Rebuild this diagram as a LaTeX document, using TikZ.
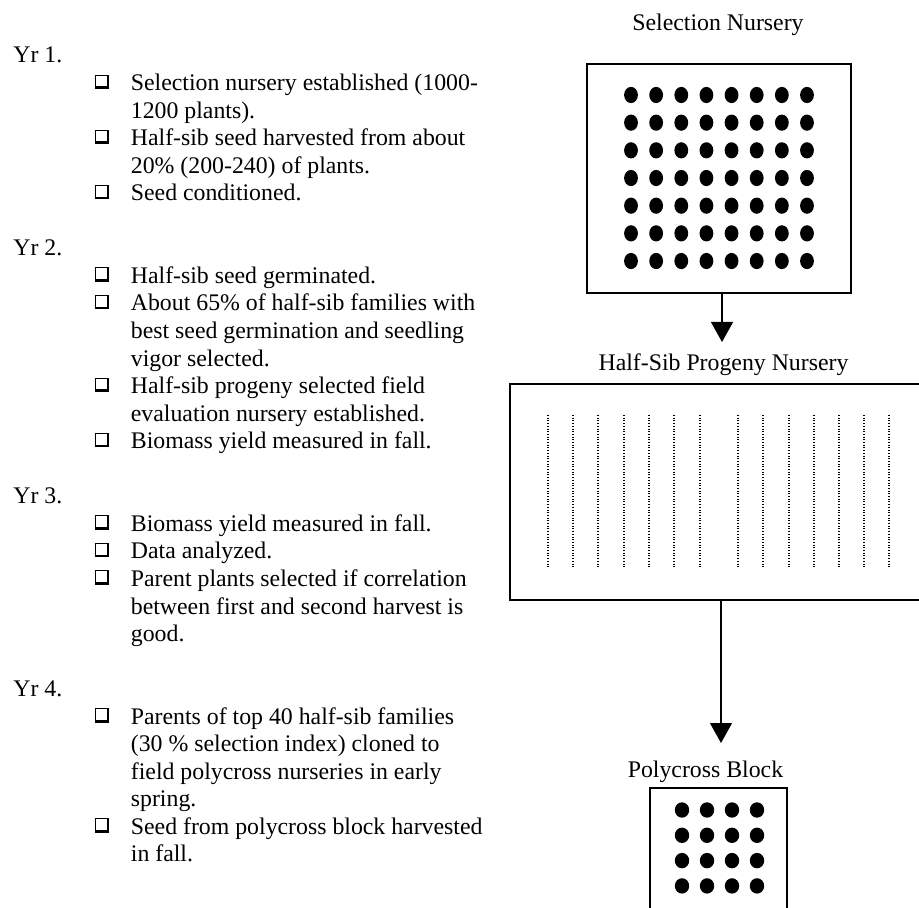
\documentclass[tikz,border=0pt]{standalone}
\usepackage{fontspec}
\setmainfont{Liberation Serif}
\usetikzlibrary{arrows.meta}
\begin{document}
\begin{tikzpicture}[x=0.5pt,y=-0.5pt,
  txt/.style={anchor=base west,inner sep=0pt,font=\fontsize{11.9}{13.8}\selectfont},
  lbl/.style={anchor=base,inner sep=0pt,font=\fontsize{11.9}{13.8}\selectfont},
  boxn/.style={draw,line width=0.8pt,inner sep=0pt,outer sep=0pt},
  dotn/.style={fill=black},
  rowline/.style={line width=0.65pt,dash pattern=on 0.5pt off 0.85pt},
  arr/.style={line width=0.6pt,-{Triangle[width=11pt,length=10pt]}}]
\useasboundingbox (0,0) rectangle (919,908);
% left column text
\foreach \n/\t in {0/Yr 1.,7/Yr 2.,16/Yr 3.,23/Yr 4.}
  \node[txt] (yr\n) at (13,{63+27.55*\n}) {\t};
\foreach \n/\t in {
  1/Selection nursery established (1000-,
  2/1200 plants).,
  3/Half-sib seed harvested from about,
  4/20\% (200-240) of plants.,
  5/Seed conditioned.,
  8/Half-sib seed germinated.,
  9/About 65\% of half-sib families with,
  10/best seed germination and seedling,
  11/vigor selected.,
  12/Half-sib progeny selected field,
  13/evaluation nursery established.,
  14/Biomass yield measured in fall.,
  17/Biomass yield measured in fall.,
  18/Data analyzed.,
  19/Parent plants selected if correlation,
  20/between first and second harvest is,
  21/good.,
  24/Parents of top 40 half-sib families,
  25/(30 \% selection index) cloned to,
  26/field polycross nurseries in early,
  27/spring.,
  28/Seed from polycross block harvested,
  29/in fall.}
  \node[txt] (l\n) at (130.5,{63+27.55*\n}) {\t};
% shadowed box bullets
\foreach \n in {1,3,5,8,9,12,14,17,18,19,24,28}{
  \pgfmathsetmacro{\b}{63+27.55*\n}
  \fill[black] (95,\b-16) rectangle (109.3,\b-1.7);
  \fill[white] (96,\b-15) rectangle (106.8,\b-4.2);
}
% Selection nursery
\node[lbl] (selT) at (718,31) {Selection Nursery};
\node[boxn,minimum width=132pt,minimum height=114.5pt] (sel) at (719,178.5) {};
\foreach \i in {0,...,7}
  \foreach \j in {0,...,6}
    \fill[dotn] ({631+25.14*\i},{95+27.67*\j}) ellipse[x radius=3.45pt,y radius=4.05pt];
% Half-sib progeny nursery
\node[lbl] (hsT) at (723.5,371) {Half-Sib Progeny Nursery};
\node[boxn,minimum width=210pt,minimum height=108pt] (hs) at (720,492) {};
\foreach \x in {548,573,598,624,649,674,700,738,763,789,814,839,864,889}
  \draw[rowline] (\x,415) -- (\x,568);
% Polycross block
\node[lbl] (pcT) at (705.5,777) {Polycross Block};
\node[boxn,minimum width=68.5pt,minimum height=71pt] (pc) at (718.5,859) {};
\foreach \i in {0,...,3}
  \foreach \j in {0,...,3}
    \fill[dotn] ({682+25*\i},{810+25.3*\j}) ellipse[x radius=3.6pt,y radius=3.85pt];
% connectors
\coordinate (a1) at (722,342);
\coordinate (a2) at (721,743);
\draw[arr] (sel.south -| a1) -- (a1);
\draw[arr] (hs.south -| a2) -- (a2);
\end{tikzpicture}
\end{document}
